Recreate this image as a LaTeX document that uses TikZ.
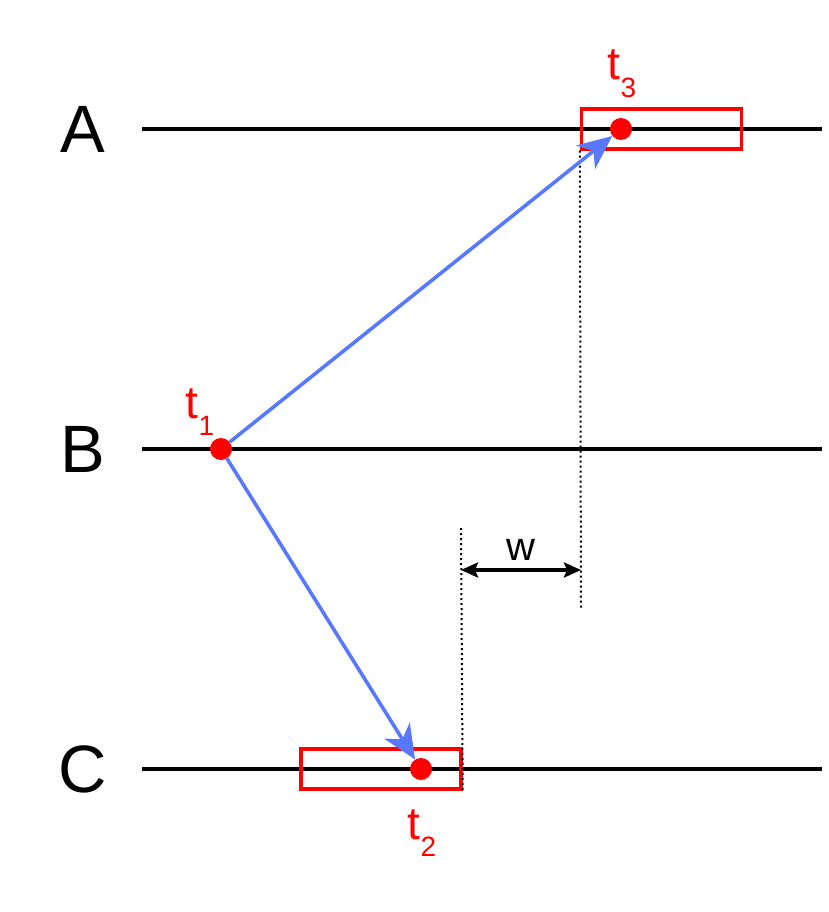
\documentclass[tikz,border=0pt]{standalone}
\usepackage{fontspec}
\setmainfont{Liberation Sans}
\usetikzlibrary{arrows.meta}
\definecolor{msgblue}{RGB}{88,121,255}
\tikzstyle{track} = [line width=3.6pt, black]
\tikzstyle{lane} = [font=\fontsize{67}{67}\selectfont, inner sep=0pt]
\tikzstyle{event} = [circle, fill=red, inner sep=0pt, minimum size=22pt]
\tikzstyle{window} = [rectangle, draw=red, line width=3.4pt, minimum width=160pt, minimum height=40pt]
\tikzstyle{msg} = [line width=3.6pt, msgblue, -{Stealth[length=34pt, width=30pt, inset=10pt]}]
\tikzstyle{guide} = [line width=2pt, dash pattern=on 2pt off 3pt]
\tikzstyle{span} = [line width=3.6pt, {Stealth[length=17pt, width=15pt, inset=3pt]}-{Stealth[length=17pt, width=15pt, inset=3pt]}]
\tikzstyle{stamp} = [text=red, font=\fontsize{46}{46}\selectfont, inner sep=0pt]
\newcommand{\tsub}[1]{t\raisebox{-0.38em}{\fontsize{28}{28}\selectfont #1}}

\begin{document}
\begin{tikzpicture}[x=1pt, y=-1pt]
\useasboundingbox (0,0) rectangle (828,912);

% processes
\node (A) [lane] at (83,129) {A};
\node (B) [lane] at (83,449) {B};
\node (C) [lane] at (83,769) {C};
\coordinate (As) at (142,129); \coordinate (Ae) at (822,129);
\coordinate (Bs) at (142,449); \coordinate (Be) at (822,449);
\coordinate (Cs) at (142,769); \coordinate (Ce) at (822,769);
\draw [track] (As) -- (Ae);
\draw [track] (Bs) -- (Be);
\draw [track] (Cs) -- (Ce);

% windows
\node (w3) [window] at (661.5,129) {};
\node (w2) [window] at (381,769) {};

% dotted guides and width
\coordinate (g3) at (581,608);
\coordinate (g2) at (461,528);
\draw [guide] (w3.south west) -- (g3);
\draw [guide] (g2) -- (w2.south east);
\coordinate (wl) at (461,570);
\coordinate (wr) at (581,570);
\draw [span] (wl) -- node[above=8pt, font=\fontsize{40}{40}\selectfont, inner sep=0pt]{w} (wr);

% events
\node (t1) [event] at (221,449) {};
\node (t3) [event] at (621,129) {};
\node (t2) [event] at (421,769) {};
\draw [msg] (t1) -- (t3);
\draw [msg] (t1) -- (t2);

\node (l1) [stamp, anchor=base] at (200,418) {\tsub{1}};
\node (l3) [stamp, anchor=base] at (622,80) {\tsub{3}};
\node (l2) [stamp, anchor=base] at (422,839) {\tsub{2}};

\end{tikzpicture}
\end{document}
